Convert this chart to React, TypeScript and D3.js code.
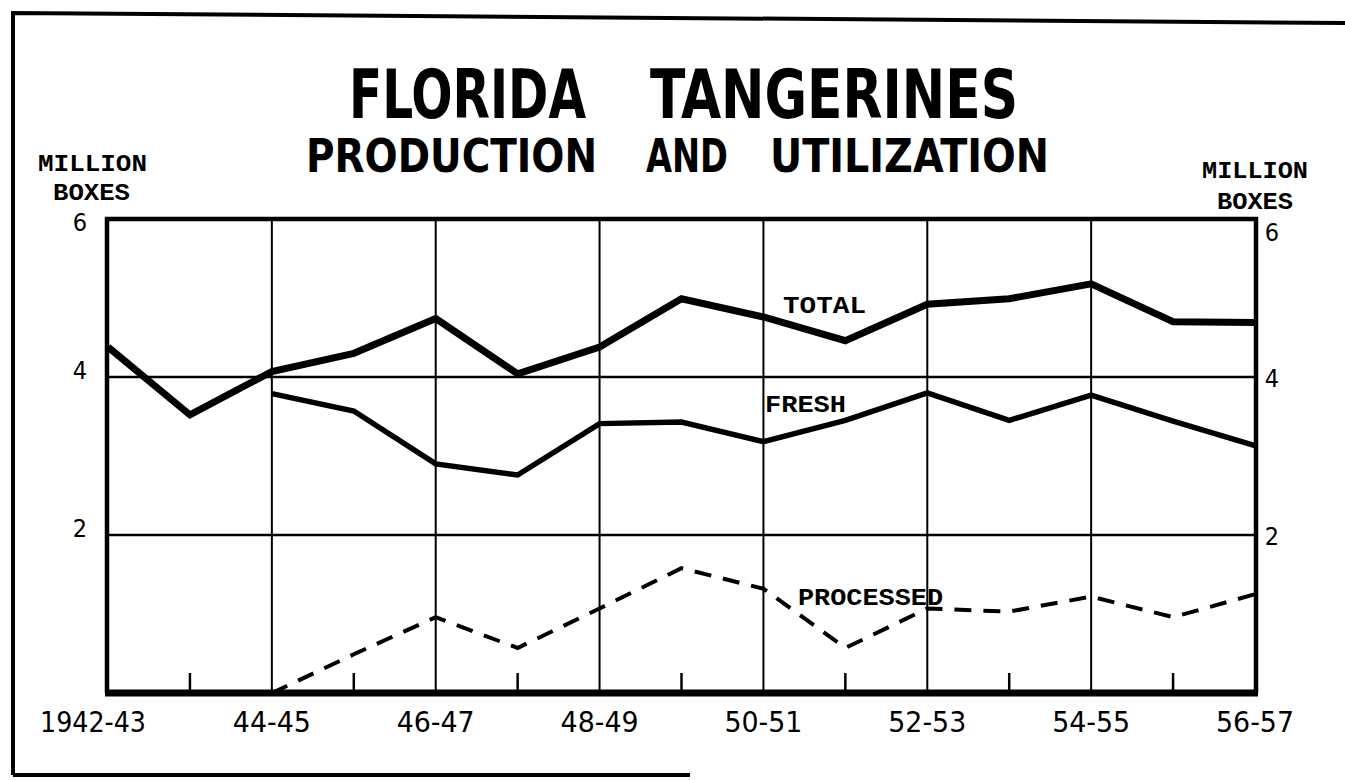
import { useEffect, useRef } from 'react';
import * as d3 from 'd3';

const seasons = [
  '1942-43', '43-44', '44-45', '45-46', '46-47', '47-48', '48-49', '49-50',
  '50-51', '51-52', '52-53', '53-54', '54-55', '55-56', '56-57',
];
const labeledSeasons = ['1942-43', '44-45', '46-47', '48-49', '50-51', '52-53', '54-55', '56-57'];

// million boxes
const total = [4.38, 3.52, 4.07, 4.3, 4.74, 4.04, 4.38, 4.99, 4.76, 4.46, 4.92, 4.99, 5.18, 4.7, 4.69];
const fresh = [null, null, 3.79, 3.57, 2.9, 2.76, 3.41, 3.43, 3.18, 3.45, 3.8, 3.45, 3.77, 3.44, 3.13];
const processed = [null, null, 0, 0.49, 0.96, 0.57, 1.07, 1.58, 1.32, 0.57, 1.07, 1.03, 1.22, 0.96, 1.25];

const yTicks = [2, 4];
const yEndLabels = [2, 4, 6];

const W = 1345;
const H = 780;

const titleFont = "'DejaVu Sans Condensed', 'Liberation Sans Narrow', 'DejaVu Sans', sans-serif";
const typeFont = "'Liberation Mono', 'DejaVu Sans Mono', monospace";
const handFont = "'DejaVu Sans Condensed', 'DejaVu Sans', sans-serif";

export default function App() {
  const svgRef = useRef<SVGSVGElement>(null);

  useEffect(() => {
    const svg = d3.select(svgRef.current);
    svg.selectAll('*').remove();

    const left = 107;
    const right = 1256;
    const top = 219;
    const bottom = 693;

    const x = d3.scalePoint<string>().domain(seasons).range([left + 1, right - 1]);
    const y = d3.scaleLinear().domain([0, 6]).range([bottom, top]);

    svg.append('rect').attr('width', W).attr('height', H).attr('fill', '#fff');

    // outer border (partial, as in the scan)
    const border = svg.append('g').attr('stroke', '#000').attr('stroke-width', 4).attr('fill', 'none');
    border.append('path').attr('d', 'M13,775 L13,13 L1345,23');
    border.append('path').attr('d', 'M13,775 L690,775');

    // titles
    const title = svg.append('g').attr('font-family', titleFont).attr('font-weight', 'bold').attr('fill', '#000');
    title.append('text').attr('x', 349).attr('y', 118).attr('font-size', 68)
      .attr('textLength', 237).attr('lengthAdjust', 'spacingAndGlyphs').text('FLORIDA');
    title.append('text').attr('x', 650).attr('y', 118).attr('font-size', 68)
      .attr('textLength', 368).attr('lengthAdjust', 'spacingAndGlyphs').text('TANGERINES');
    title.append('text').attr('x', 306).attr('y', 172).attr('font-size', 46)
      .attr('textLength', 291).attr('lengthAdjust', 'spacingAndGlyphs').text('PRODUCTION');
    title.append('text').attr('x', 646).attr('y', 172).attr('font-size', 46)
      .attr('textLength', 82).attr('lengthAdjust', 'spacingAndGlyphs').text('AND');
    title.append('text').attr('x', 770).attr('y', 172).attr('font-size', 46)
      .attr('textLength', 279).attr('lengthAdjust', 'spacingAndGlyphs').text('UTILIZATION');

    // unit labels
    const unit = svg.append('g').attr('font-family', typeFont).attr('font-weight', 'bold').attr('fill', '#000')
      .attr('font-size', 24);
    unit.append('text').attr('x', 38).attr('y', 171).attr('textLength', 109)
      .attr('lengthAdjust', 'spacingAndGlyphs').text('MILLION');
    unit.append('text').attr('x', 53).attr('y', 200).attr('textLength', 77)
      .attr('lengthAdjust', 'spacingAndGlyphs').text('BOXES');
    unit.append('text').attr('x', 1202).attr('y', 178).attr('textLength', 106)
      .attr('lengthAdjust', 'spacingAndGlyphs').text('MILLION');
    unit.append('text').attr('x', 1217).attr('y', 209).attr('textLength', 76)
      .attr('lengthAdjust', 'spacingAndGlyphs').text('BOXES');

    // y value labels
    const yl = svg.append('g').attr('font-family', handFont).attr('font-size', 25).attr('fill', '#000');
    yl.selectAll('text.l').data(yEndLabels).join('text')
      .attr('class', 'l')
      .attr('x', 80)
      .attr('y', (d) => (d === 6 ? 231 : y(d) + 2))
      .attr('text-anchor', 'middle')
      .text((d) => d);
    yl.selectAll('text.r').data(yEndLabels).join('text')
      .attr('class', 'r')
      .attr('x', 1272)
      .attr('y', (d) => (d === 6 ? 241 : y(d) + 10))
      .attr('text-anchor', 'middle')
      .text((d) => d);

    // grid
    const grid = svg.append('g').attr('stroke', '#000').attr('fill', 'none');
    grid.selectAll('line.h').data(yTicks).join('line')
      .attr('class', 'h')
      .attr('x1', left).attr('x2', right)
      .attr('y1', (d) => y(d)).attr('y2', (d) => y(d))
      .attr('stroke-width', 2.5);
    grid.selectAll('line.v').data(seasons.filter((_, i) => i % 2 === 0 && i > 0 && i < 14)).join('line')
      .attr('class', 'v')
      .attr('x1', (d) => x(d)!).attr('x2', (d) => x(d)!)
      .attr('y1', top).attr('y2', bottom)
      .attr('stroke-width', 2);
    grid.selectAll('line.t').data(seasons.filter((_, i) => i % 2 === 1)).join('line')
      .attr('class', 't')
      .attr('x1', (d) => x(d)!).attr('x2', (d) => x(d)!)
      .attr('y1', bottom - 20).attr('y2', bottom)
      .attr('stroke-width', 2.5);

    // frame
    grid.append('path')
      .attr('d', `M${left},${bottom} L${left},${top} L${right},${top} L${right},${bottom}`)
      .attr('stroke-width', 4.5);
    grid.append('line')
      .attr('x1', left - 2).attr('x2', right + 2)
      .attr('y1', bottom).attr('y2', bottom)
      .attr('stroke-width', 7);

    // series
    const line = d3.line<number | null>()
      .defined((d) => d !== null)
      .x((_, i) => x(seasons[i])!)
      .y((d) => y(d as number));

    svg.append('path').datum(total).attr('d', line)
      .attr('fill', 'none').attr('stroke', '#000').attr('stroke-width', 7).attr('stroke-linejoin', 'miter');
    svg.append('path').datum(fresh).attr('d', line)
      .attr('fill', 'none').attr('stroke', '#000').attr('stroke-width', 5.5).attr('stroke-linejoin', 'miter');
    svg.append('path').datum(processed).attr('d', line)
      .attr('fill', 'none').attr('stroke', '#000').attr('stroke-width', 4)
      .attr('stroke-dasharray', '17 12').attr('stroke-linejoin', 'miter');

    // series labels
    const sl = svg.append('g').attr('font-family', typeFont).attr('font-weight', 'bold').attr('fill', '#000')
      .attr('font-size', 24);
    sl.append('text').attr('x', 783).attr('y', 313).attr('textLength', 83)
      .attr('lengthAdjust', 'spacingAndGlyphs').text('TOTAL');
    sl.append('text').attr('x', 765).attr('y', 412).attr('textLength', 81)
      .attr('lengthAdjust', 'spacingAndGlyphs').text('FRESH');
    sl.append('text').attr('x', 798).attr('y', 605).attr('textLength', 145)
      .attr('lengthAdjust', 'spacingAndGlyphs').text('PROCESSED');

    // x labels
    svg.append('g').attr('font-family', handFont).attr('font-size', 29).attr('fill', '#000')
      .selectAll('text').data(labeledSeasons).join('text')
      .attr('x', (d) => x(d)! + (d === '1942-43' ? -15 : 0))
      .attr('y', 732)
      .attr('text-anchor', 'middle')
      .attr('textLength', (d) => (d === '1942-43' ? 106 : 78))
      .attr('lengthAdjust', 'spacingAndGlyphs')
      .text((d) => d);
  }, []);

  return (
    <svg ref={svgRef} width={W} height={H} style={{ position: 'absolute', left: 0, top: 0, display: 'block' }} />
  );
}
